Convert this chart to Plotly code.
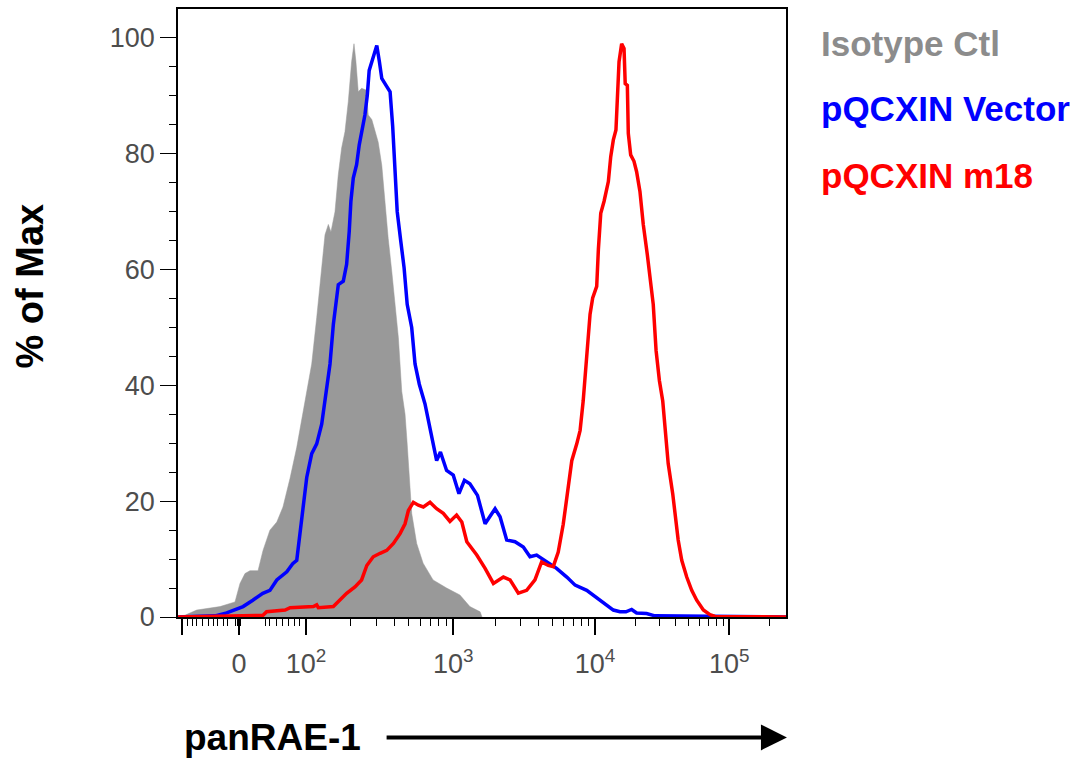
import math
import plotly.graph_objects as go

# ---------------- data (x in display channels 0-256 of the biexponential axis, y = % of max) ----------------
iso_ch = [1.0, 2.9, 7.9, 17.7, 24.0, 26.1, 28.2, 30.3, 33.7, 35.8, 38.7, 41.6, 44.2, 47.2, 50.0, 52.6,
          56.3, 58.4, 60.5, 61.9, 63.3, 64.4, 66.1, 67.5, 68.9, 70.3, 71.7, 73.1, 74.1, 74.9, 75.9,
          77.3, 79.2, 80.1, 81.6, 82.9, 84.3, 85.8, 87.2, 88.5, 90.0, 91.4, 92.8, 94.2, 95.6, 96.4,
          97.3, 98.4, 100.5, 103.2, 107.4, 113.1, 118.7, 122.9, 127.2, 128.0]
iso_pct = [0.2, 0.3, 1.2, 1.8, 2.6, 5.8, 7.5, 8.0, 8.0, 11.5, 15.0, 16.4, 19.0, 24.0, 29.3, 35.0,
           43.7, 51.7, 61.0, 66.0, 67.8, 66.5, 70.0, 76.4, 81.0, 83.8, 89.0, 95.9, 99.0, 96.0, 90.7,
           91.3, 91.0, 86.7, 85.9, 83.8, 82.0, 78.0, 71.2, 65.4, 59.7, 54.0, 48.2, 39.0, 35.0, 30.5,
           24.8, 17.9, 12.7, 9.3, 6.4, 5.0, 3.8, 1.8, 0.9, 0.0]

vec_ch = [0.0, 15.6, 20.5, 24.0, 27.4, 31.5, 33.1, 35.7, 38.7, 41.6, 45.8, 48.3, 50.0, 51.4, 52.8,
          54.2, 56.3, 58.4, 60.5, 61.9, 63.3, 64.0, 65.4, 66.8, 67.5, 69.6, 71.0, 72.1, 72.8, 73.8,
          75.2, 76.3, 77.3, 78.7, 79.7, 80.5, 82.0, 83.7, 84.8, 85.8, 87.6, 89.3, 90.4, 91.4, 92.3,
          93.8, 95.2, 96.5, 98.4, 99.8, 101.6, 104.0, 105.4, 107.5, 108.9, 110.5, 113.1, 115.9,
          118.3, 120.6, 122.9, 126.1, 129.3, 133.5, 135.6, 138.4, 141.9, 145.4, 148.2, 151.0,
          155.2, 159.4, 163.7, 167.2, 172.1, 177.7, 183.3, 186.1, 188.6, 191.0, 193.1, 197.3,
          200.8, 256.0]
vec_pct = [0.0, 0.2, 0.7, 1.2, 1.8, 2.9, 3.3, 4.1, 4.6, 6.4, 7.8, 9.2, 9.8, 14.5, 19.0,
           24.1, 28.2, 29.9, 33.3, 37.3, 40.8, 43.7, 50.5, 55.1, 57.4, 58.0, 60.9, 66.6, 71.8, 75.8,
           78.1, 81.5, 83.8, 86.7, 90.1, 94.4, 96.4, 98.7, 95.9, 93.0, 91.8, 90.7, 84.7, 75.2, 70.0,
           64.9, 60.3, 54.0, 50.0, 43.7, 40.2, 36.8, 33.9, 29.3, 27.0, 28.5, 25.3, 24.5,
           21.3, 23.6, 23.0, 21.0, 16.1, 18.7, 17.3, 13.3, 13.0, 12.1, 10.4, 10.7,
           9.5, 8.4, 6.9, 5.5, 4.6, 2.9, 1.2, 0.9, 0.9, 1.3, 0.7, 0.6,
           0.2, 0.0]

m18_ch = [0.0, 35.8, 37.3, 45.1, 47.2, 57.0, 58.4, 59.1, 65.4, 68.2, 71.0, 74.5, 77.3, 79.5, 82.2,
          85.1, 87.9, 90.7, 93.5, 95.6, 97.0, 99.1, 101.2, 103.3, 106.1, 108.9, 111.7, 114.5, 117.3,
          119.5, 121.6, 125.8, 129.3, 132.8, 137.0, 139.8, 143.3, 146.8, 150.3, 153.1, 155.9, 158.0,
          160.1, 162.2, 163.7, 165.8, 167.9, 169.3, 170.6, 171.4, 172.3, 173.5, 174.6, 176.3, 177.0,
          178.0, 179.4, 181.2, 182.2, 183.3, 184.4, 185.0, 185.7, 186.8, 187.8, 188.3, 189.2, 189.6,
          190.6, 192.0, 193.1, 194.5, 195.9, 197.6, 198.7, 200.1, 201.3, 202.7, 204.1, 205.5, 206.4,
          208.3, 209.3, 210.6, 212.1, 214.2, 216.3, 218.4, 221.2, 224.0, 226.1, 256.0]
m18_pct = [0.0, 0.3, 0.9, 1.2, 1.6, 1.8, 2.1, 1.6, 1.8, 2.9, 4.1, 5.2, 6.4, 8.9, 10.4,
           11.0, 11.5, 12.7, 14.4, 16.1, 18.4, 19.8, 19.3, 19.0, 19.8, 18.7, 17.9, 16.5, 17.6,
           16.4, 13.0, 10.7, 8.4, 5.8, 6.9, 6.4, 4.1, 4.6, 6.4, 9.5, 8.9, 8.7,
           11.2, 16.0, 21.0, 27.0, 29.9, 32.2, 37.3, 41.9, 47.1, 52.3, 55.1, 57.1, 63.5,
           69.7, 71.8, 75.2, 79.5, 82.4, 84.1, 89.0, 95.9, 99.0, 98.2, 92.1, 91.8, 83.5,
           79.8, 78.7, 76.9, 73.5, 67.8, 62.6, 58.6, 54.0, 46.0, 40.8, 37.3, 31.0, 26.5,
           21.3, 17.3, 13.3, 9.8, 6.9, 4.6, 2.9, 1.2, 0.4, 0.1, 0.0]

# axis: channel of each labelled decade on the biexponential display
major_ch = [1.7, 25.7, 53.9, 115.9, 175.6, 232.1]
major_labels = ["", "0", "10<sup>2</sup>", "10<sup>3</sup>", "10<sup>4</sup>", "10<sup>5</sup>"]
linear_region_minor_ch = [4.1, 5.9, 7.9, 10.4, 12.9, 14.9, 16.7, 19.1, 20.9, 24.4, 25.2, 26.5,
                          36.8, 38.7, 41.3, 43.8, 46.6, 49.0, 51.1]
y_ticks = [0, 20, 40, 60, 80, 100]
series_names = ["Isotype Ctl", "pQCXIN Vector", "pQCXIN m18"]
series_colors = ["#8c8c8c", "#0000ff", "#ff0000"]

# minor ticks inside each log decade (2..9 x 10^k)
decades = major_ch[2:] + [major_ch[-1] + (major_ch[-1] - major_ch[-2])]
minor_ch = list(linear_region_minor_ch)
for a, b in zip(decades[:-1], decades[1:]):
    for m in range(2, 10):
        v = a + math.log10(m) * (b - a)
        if v <= 256:
            minor_ch.append(v)
y_minor = [v for v in range(5, 105, 5) if v % 20 != 0]

FONT = "Arial, 'Liberation Sans', Helvetica, sans-serif"

fig = go.Figure()
fig.add_trace(go.Scatter(x=iso_ch, y=iso_pct, mode="lines", fill="tozeroy",
                         fillcolor="#999999", line=dict(color="#999999", width=0.5),
                         name=series_names[0], showlegend=False))
fig.add_trace(go.Scatter(x=vec_ch, y=vec_pct, mode="lines",
                         line=dict(color=series_colors[1], width=3.5),
                         name=series_names[1], showlegend=False))
fig.add_trace(go.Scatter(x=m18_ch, y=m18_pct, mode="lines",
                         line=dict(color=series_colors[2], width=3.5),
                         name=series_names[2], showlegend=False))

fig.update_layout(
    width=1081, height=759,
    margin=dict(l=178, r=295, t=7, b=142),
    paper_bgcolor="white", plot_bgcolor="white",
    font=dict(family=FONT),
    showlegend=False,
)
fig.update_xaxes(
    range=[0, 256], showgrid=False, zeroline=False,
    showline=True, linecolor="black", linewidth=1.5, mirror=True,
    tickmode="array", tickvals=major_ch, ticktext=major_labels,
    ticks="outside", ticklen=16, tickwidth=1.5, tickcolor="black",
    ticklabelstandoff=6,
    tickfont=dict(size=27, color="#4d4d4d", family=FONT),
    minor=dict(tickmode="array", tickvals=minor_ch, ticks="outside",
               ticklen=7, tickwidth=1.2, tickcolor="black"),
)
fig.update_yaxes(
    range=[0, 105], showgrid=False, zeroline=False,
    showline=True, linecolor="black", linewidth=1.5, mirror=True,
    tickmode="array", tickvals=y_ticks,
    ticks="outside", ticklen=16, tickwidth=1.2, tickcolor="black",
    tickfont=dict(size=27, color="#4d4d4d", family=FONT),
    minor=dict(tickmode="array", tickvals=y_minor,
               ticks="outside", ticklen=7, tickwidth=1.2, tickcolor="black"),
)

# legend-like labels
legend_y = [0.943, 0.836, 0.726]
for name, col, yy in zip(series_names, series_colors, legend_y):
    fig.add_annotation(text=f"<b>{name}</b>", xref="paper", yref="paper", x=1.054, y=yy,
                       xanchor="left", yanchor="middle", showarrow=False,
                       font=dict(size=35, color=col, family=FONT))

# axis titles
fig.add_annotation(text="<b>% of Max</b>", xref="paper", yref="paper", x=-0.243, y=0.544,
                   textangle=-90, showarrow=False, xanchor="center", yanchor="middle",
                   font=dict(size=38, color="black", family=FONT))
fig.add_annotation(text="<b>panRAE-1</b>", xref="paper", yref="paper", x=0.006, y=-0.198,
                   xanchor="left", yanchor="middle", showarrow=False,
                   font=dict(size=37, color="black", family=FONT))
fig.add_annotation(text="", xref="x", yref="paper", x=256.4, y=-0.198,
                   axref="x", ayref="pixel", ax=87.2, ay=0,
                   showarrow=True, arrowhead=2, arrowsize=1.3, arrowwidth=4, arrowcolor="black")

fig.write_html("out.html")
